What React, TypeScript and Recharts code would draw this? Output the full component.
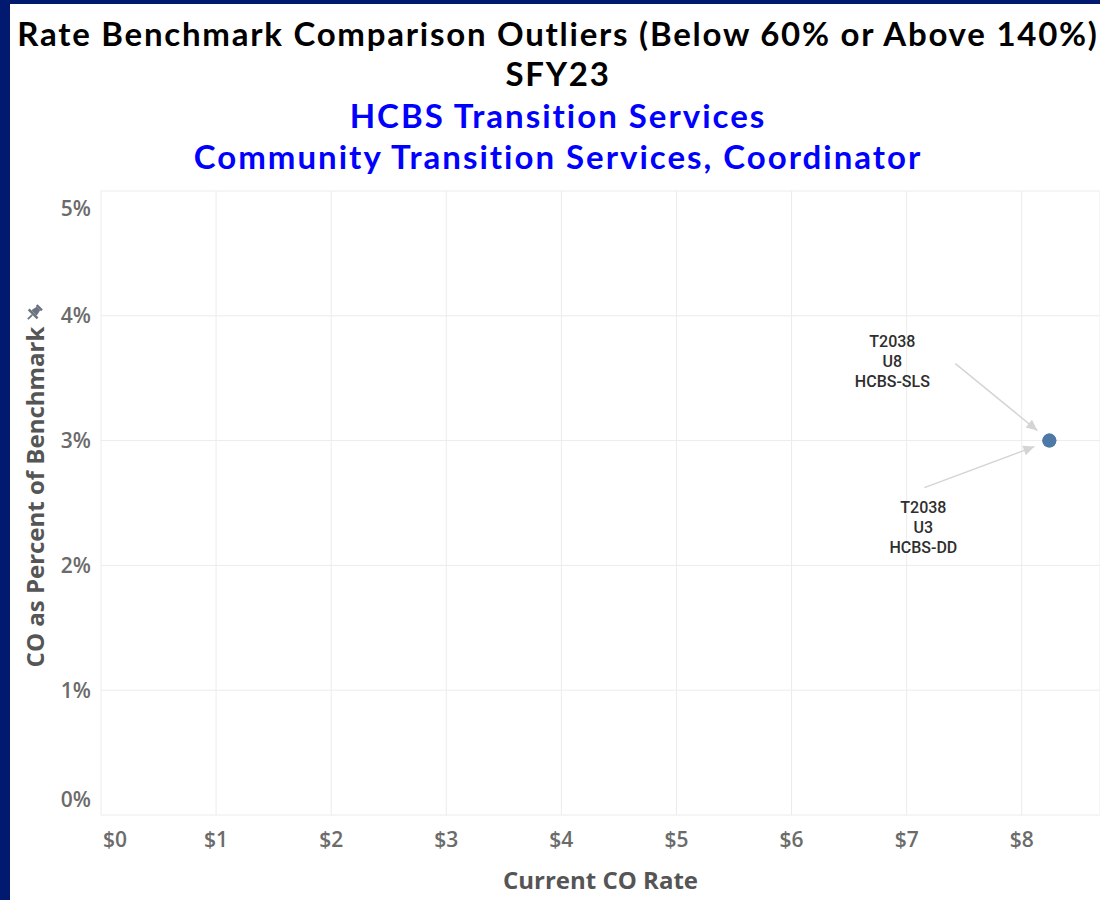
import { ScatterChart, Scatter, XAxis, YAxis, CartesianGrid } from "recharts";

const codes = ["T2038", "T2038"];
const modifiers = ["U8", "U3"];
const programs = ["HCBS-SLS", "HCBS-DD"];
const currentRates = [8.24, 8.24];
const pctOfBenchmark = [0.03, 0.03];

const xTicks = [0, 1, 2, 3, 4, 5, 6, 7, 8];
const yTicks = [0, 0.01, 0.02, 0.03, 0.04, 0.05];

const titleLines = [
  "Rate Benchmark Comparison Outliers (Below 60% or Above 140%)",
  "SFY23",
];
const subtitleLines = ["HCBS Transition Services", "Community Transition Services, Coordinator"];

// annotation placement relative to the mark (text centre, arrow start/end)
const annoStyle = [
  { tx: -157, ty: -99, x1: -94, y1: -77, x2: -12, y2: -10 },
  { tx: -126, ty: 67, x1: -125, y1: 47, x2: -15, y2: 6 },
];

const data = codes.map((c, i) => ({
  code: c,
  mod: modifiers[i],
  prog: programs[i],
  rate: currentRates[i],
  pct: pctOfBenchmark[i],
  idx: i,
}));

const FONT = "'Open Sans', sans-serif";
const TITLE_FONT = "Lato, sans-serif";
const NAVY = "#011a70";
const TICK = "#6b6b6b";

function XTick({ x, y, payload }: any) {
  const first = payload.value === 0;
  return (
    <text x={first ? x + 2 : x} y={840} dy="0.35em" textAnchor={first ? "start" : "middle"}
      fill={TICK} fontSize={21} fontWeight={600} fontFamily={FONT}>
      ${payload.value}
    </text>
  );
}

function YTick({ x, y, payload }: any) {
  let ty = y;
  if (payload.value >= 0.05) ty = y + 18;
  if (payload.value === 0) ty = y - 15;
  return (
    <text x={91} y={ty} dy="0.35em" textAnchor="end" fill={TICK} fontSize={21}
      fontWeight={600} fontFamily={FONT}>
      {Math.round(payload.value * 100)}%
    </text>
  );
}

function arrowHead(x1: number, y1: number, x2: number, y2: number) {
  const a = Math.atan2(y2 - y1, x2 - x1);
  const L = 11, W = 5;
  const bx = x2 - L * Math.cos(a), by = y2 - L * Math.sin(a);
  const px = -Math.sin(a) * W, py = Math.cos(a) * W;
  return `${x2},${y2} ${bx + px},${by + py} ${bx - px},${by - py}`;
}

function PointShape(props: any) {
  const { cx, cy, payload } = props;
  const s = annoStyle[payload.idx];
  const lines = [payload.code, payload.mod, payload.prog];
  return (
    <g>
      <line x1={cx + s.x1} y1={cy + s.y1} x2={cx + s.x2} y2={cy + s.y2} stroke="#d4d4d4" strokeWidth={1.5} />
      <polygon points={arrowHead(cx + s.x1, cy + s.y1, cx + s.x2, cy + s.y2)} fill="#d4d4d4" />
      {lines.map((t, k) => (
        <text key={k} x={cx + s.tx} y={cy + s.ty + k * 20} dy="0.35em" textAnchor="middle"
          fontSize={16} fontWeight={500} fontFamily="'Roboto', sans-serif" fill="#2e2e2e">
          {t}
        </text>
      ))}
      <circle cx={cx} cy={cy} r={7} fill="#4e79a7" />
    </g>
  );
}

export default function App() {
  return (
    <div style={{ position: "absolute", left: 0, top: 0, width: 1100, height: 900, background: NAVY, overflow: "hidden" }}>
      <div style={{ position: "absolute", left: 10, top: 4, width: 1090, height: 896, background: "#fff" }} />
      {titleLines.map((t, i) => (
        <div key={t} style={{ position: "absolute", left: 12, width: 1092, top: 33 + i * 40 - 17, height: 34, lineHeight: "34px",
          textAlign: "center", fontFamily: TITLE_FONT, fontWeight: 700, fontSize: 33, letterSpacing: 1.75,
          color: "#000", whiteSpace: "nowrap" }}>
          {t}
        </div>
      ))}
      {subtitleLines.map((t, i) => (
        <div key={t} style={{ position: "absolute", left: 12, width: 1092, top: 115 + i * 41 - 17, height: 34, lineHeight: "34px",
          textAlign: "center", fontFamily: TITLE_FONT, fontWeight: 700, fontSize: 33, letterSpacing: 2,
          color: "#0000ff", whiteSpace: "nowrap" }}>
          {t}
        </div>
      ))}
      <div style={{ position: "absolute", left: 0, top: 0 }}>
        <ScatterChart width={1100} height={900} margin={{ top: 191, right: 0, bottom: 25, left: 0 }}>
          <CartesianGrid stroke="#ececec" strokeWidth={1} />
          <XAxis type="number" dataKey="rate" domain={[0, 8.68]} ticks={xTicks} allowDataOverflow
            axisLine={false} tickLine={false} height={60} tick={<XTick />} interval={0} />
          <YAxis type="number" dataKey="pct" domain={[0, 0.05]} ticks={yTicks} axisLine={false}
            tickLine={false} width={101} tick={<YTick />} interval={0} />
          <Scatter data={data} shape={<PointShape />} isAnimationActive={false} />
        </ScatterChart>
      </div>
      <div style={{ position: "absolute", left: 503, top: 864, fontFamily: FONT, fontWeight: 700, fontSize: 24,
        color: "#555", whiteSpace: "nowrap", lineHeight: "32px" }}>
        Current CO Rate
      </div>
      <div style={{ position: "absolute", left: 35, top: 497, width: 0, height: 0 }}>
        <div style={{ position: "absolute", left: -200, top: -16, width: 400, textAlign: "center", transform: "rotate(-90deg)",
          fontFamily: FONT, fontWeight: 700, fontSize: 24, color: "#555", whiteSpace: "nowrap", lineHeight: "32px" }}>
          CO as Percent of Benchmark
        </div>
      </div>
      <svg style={{ position: "absolute", left: 24, top: 303 }} width={20} height={20} viewBox="0 0 16 16">
        <g transform="rotate(45 8 8)" fill="#6b7380">
          <rect x={5} y={1} width={6} height={2} />
          <polygon points="6,3 10,3 11,8 5,8" />
          <rect x={3} y={8} width={10} height={2} />
          <rect x={7.3} y={10} width={1.4} height={5} />
        </g>
      </svg>
    </div>
  );
}
